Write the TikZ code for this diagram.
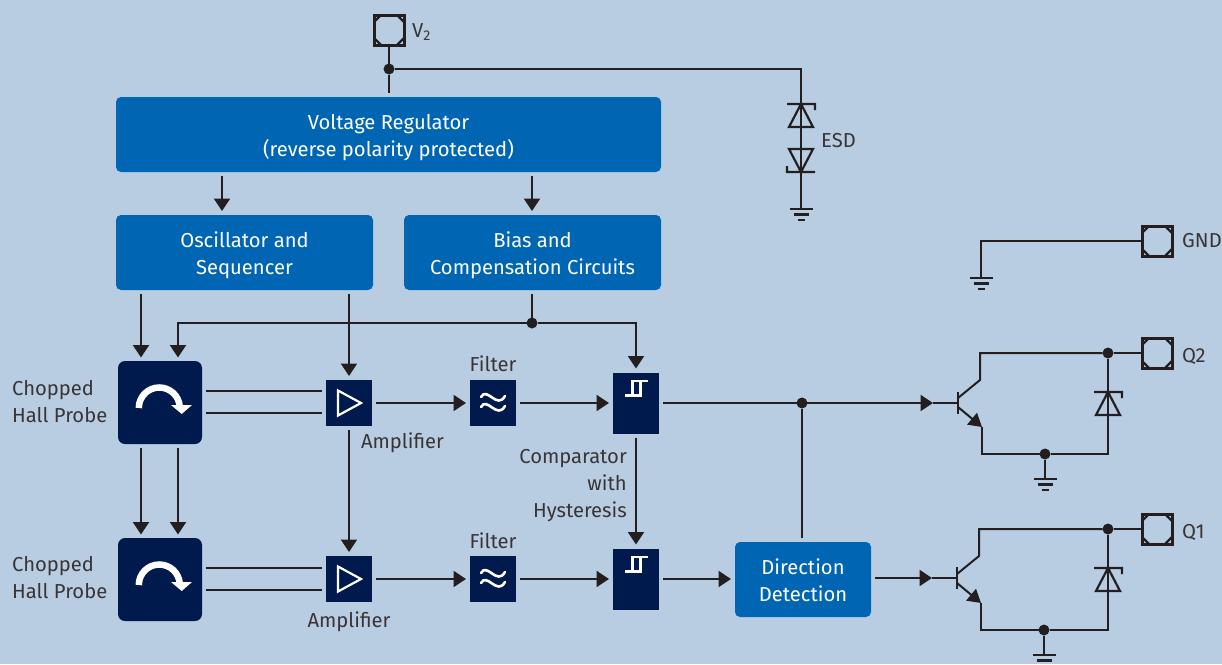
\documentclass[tikz,border=0pt]{standalone}
\usepackage{fontspec}
\setmainfont{Fira Sans}
\usepackage{tikz}
\usetikzlibrary{arrows.meta, calc}
\definecolor{panelblue}{RGB}{184,205,226}
\definecolor{ifxblue}{RGB}{0,102,179}
\definecolor{ifxnavy}{RGB}{0,26,77}
\definecolor{wirecol}{RGB}{35,31,32}
\tikzset{
  label/.style={text=wirecol!90, font=\fontsize{20.2}{27}\selectfont, align=center, inner sep=0pt},
  bluetxt/.style={text=white, font=\fontsize{20.2}{27}\selectfont, align=center, inner sep=0pt},
  bluebox/.style={fill=ifxblue, rounded corners=5pt, minimum height=75pt, outer sep=4pt, inner sep=0pt},
  hallbox/.style={fill=ifxnavy, rounded corners=7pt, minimum width=84pt, minimum height=83pt, outer sep=3.5pt, inner sep=0pt},
  ampbox/.style={fill=ifxnavy, minimum size=46pt, outer sep=4pt, inner sep=0pt},
  compbox/.style={fill=ifxnavy, minimum width=46pt, minimum height=61pt, outer sep=4pt, inner sep=0pt},
  wire/.style={draw=wirecol, line width=2pt},
  sig/.style={wire, -{Triangle[length=12.5pt,width=16pt]}},
  dot/.style={circle, fill=wirecol, minimum size=11pt, inner sep=0pt, outer sep=0pt},
  pad/.style={rectangle, draw=wirecol, line width=3pt, minimum size=30pt, inner sep=0pt, outer sep=1pt,
    path picture={\draw[wirecol, line width=2.4pt, shift={(path picture bounding box.center)}]
      (-15,-8) -- (-8,-15) (8,-15) -- (15,-8) (15,8) -- (8,15) (-8,15) -- (-15,8);}},
  gndsym/.pic={
    \draw[wirecol, line width=2.2pt] (-11.5,0) -- (11.5,0) (-7.5,5.5) -- (7.5,5.5) (-3.5,11) -- (3.5,11);},
  diodeup/.pic={
    \draw[wirecol, line width=2.2pt, line join=miter] (-14,0) -- (14,0) -- (14,6) (0,0) -- (12,23) -- (-12,23) -- cycle;},
  diodedown/.pic={
    \draw[wirecol, line width=2.2pt, line join=miter] (14,0) -- (-14,0) -- (-14,-6) (0,0) -- (12,-23) -- (-12,-23) -- cycle;},
  hallsym/.pic={
    \draw[white, line width=6.5pt] (-21.2,5.5) arc (180:355:20.5 and 20.5);
    \fill[white] (11,2.5) -- (32,2.5) -- (21.7,11.5) -- cycle;},
  ampsym/.pic={
    \draw[white, line width=2.2pt] (-11,-12.5) -- (12,0) -- (-11,12.5) -- cycle;},
  filtersym/.pic={
    \draw[white, line width=2.6pt, line cap=round] (-12,-6) .. controls (-6,-17) and (4,7) .. (12,-7)
      (-12,4) .. controls (-6,-7) and (4,17) .. (12,3);},
  compsym/.pic={
    \draw[white, line width=2.2pt] (-11,-7.5) -- (4.5,-7.5) -- (4.5,-22) (11.5,-22) -- (-3.5,-22) -- (-3.5,-7.5);},
  bjtsym/.pic={
    \draw[wirecol, line width=2.2pt] (0,-11) -- (0,11);},
}
\begin{document}
\begin{tikzpicture}[x=1pt, y=-1pt]
  \clip (0,0) rectangle (1222,664);
  \fill[panelblue] (0,0) rectangle (1222,664);
  % Supply blocks
  \node[bluebox, minimum width=545pt] (reg) at (388.5,134.5) {};
  \node[bluetxt] (regtxt) at (388.5,137.5) {Voltage Regulator\\(reverse polarity protected)};
  \node[bluebox, minimum width=257pt] (osc) at (244.5,252.5) {};
  \node[bluetxt] (osctxt) at (244.5,255.5) {Oscillator and\\Sequencer};
  \node[bluebox, minimum width=257pt] (bias) at (532.5,252.5) {};
  \node[bluetxt] (biastxt) at (532.5,255.5) {Bias and\\Compensation Circuits};
  % Upper channel
  \node[hallbox] (hall1) at (160,402.5) {};
  \node[ampbox] (amp1) at (349,403) {};
  \node[ampbox] (filt1) at (493,403) {};
  \node[compbox] (comp1) at (636,403) {};
  % Lower channel
  \node[hallbox] (hall2) at (160,579.5) {};
  \node[ampbox] (amp2) at (349,579) {};
  \node[ampbox] (filt2) at (493,579) {};
  \node[compbox] (comp2) at (636,579) {};
  \node[bluebox, minimum width=136pt] (dir) at (803,579.5) {};
  \node[bluetxt] (dirtxt) at (803,580.5) {Direction\\Detection};
  % Block symbols
  \pic at (hall1) {hallsym};
  \pic at (hall2) {hallsym};
  \pic at (amp1) {ampsym};
  \pic at (amp2) {ampsym};
  \pic at (filt1) {filtersym};
  \pic at (filt2) {filtersym};
  \pic at (comp1) {compsym};
  \pic at (comp2) {compsym};
  % Labels
  \node[label, align=left, anchor=west] (hall1txt) at (12,402) {Chopped\\Hall Probe};
  \node[label, align=left, anchor=west] (hall2txt) at (12,578) {Chopped\\Hall Probe};
  \node[label] (amp1txt) at (402.5,443) {Amplifier};
  \node[label] (amp2txt) at (349,622) {Amplifier};
  \node[label] (filt1txt) at (493,364) {Filter};
  \node[label] (filt2txt) at (493,541) {Filter};
  \node[label, align=right, anchor=east] (comptxt) at (627,486) {Comparator\\with\\Hysteresis};
  \node[label, anchor=west] (esdtxt) at (821,141) {ESD};
  \node[label, anchor=west] (vtxt) at (412,32) {V\textsubscript{2}};
  \node[label, anchor=west] (gndtxt) at (1182,241) {GND};
  \node[label, anchor=west] (q2txt) at (1182,356) {Q2};
  \node[label, anchor=west] (q1txt) at (1182,532) {Q1};
  % Pads and junctions
  \node[pad] (vpad) at (389,30) {};
  \node[pad] (gndpad) at (1157,241) {};
  \node[pad] (q2pad) at (1157,353) {};
  \node[pad] (q1pad) at (1157,529) {};
  \node[dot] (vdot) at (389,69) {};
  \node[dot] (biasdot) at (532,323) {};
  \node[dot] (outdot) at (802,403) {};
  \node[dot] (q2dot) at (1108,353) {};
  \node[dot] (q2gnd) at (1045,454) {};
  \node[dot] (q1dot) at (1108,529) {};
  \node[dot] (q1gnd) at (1044,630) {};
  % Free ends
  \coordinate (esdtop) at (801,69);
  \coordinate (esdgnd) at (801,209);
  \coordinate (gndcorner) at (981,241);
  \coordinate (gndsink) at (981,278);
  \coordinate (regl) at (222,0);
  \coordinate (oscl) at (141,0);
  \coordinate (oscr) at (349,0);
  \coordinate (hallr) at (178,0);
  \coordinate (hallu) at (0,391);
  \coordinate (halld) at (0,413);
  \coordinate (halluu) at (0,568);
  \coordinate (halldd) at (0,590);
  \coordinate (biasl) at (178,323);
  \coordinate (biasr) at (636,323);
  % Supply wiring
  \draw[wire] (vpad) -- (vdot);
  \draw[wire] (vdot) -- (reg.north -| vdot);
  \draw[wire] (vdot) -- (esdtop) -- (esdgnd);
  \pic at (801,104) {diodeup};
  \pic at (801,172) {diodedown};
  \pic at (esdgnd) {gndsym};
  \draw[wire] (gndpad) -- (gndcorner) -- (gndsink);
  \pic at (gndsink) {gndsym};
  \draw[sig] (reg.south -| regl) -- (osc.north -| regl);
  \draw[sig] (reg.south -| biasdot) -- (bias.north -| biasdot);
  % Clock and bias lines
  \draw[sig] (osc.south -| oscl) -- (hall1.north -| oscl);
  \draw[sig] (osc.south -| oscr) -- (amp1.north);
  \draw[wire] (bias.south -| biasdot) -- (biasdot);
  \draw[sig] (biasdot) -- (biasl) -- (hall1.north -| biasl);
  \draw[sig] (biasdot) -- (biasr) -- (comp1.north);
  % Signal path
  \draw[sig] (hall1.south -| oscl) -- (hall2.north -| oscl);
  \draw[sig] (hall1.south -| hallr) -- (hall2.north -| hallr);
  \draw[wire] (hall1.east |- hallu) -- (amp1.west |- hallu);
  \draw[wire] (hall1.east |- halld) -- (amp1.west |- halld);
  \draw[wire] (hall2.east |- halluu) -- (amp2.west |- halluu);
  \draw[wire] (hall2.east |- halldd) -- (amp2.west |- halldd);
  \draw[sig] (amp1.east) -- (filt1.west);
  \draw[sig] (amp2.east) -- (filt2.west);
  \draw[sig] (amp1.south) -- (amp2.north);
  \draw[sig] (filt1.east) -- (comp1.west);
  \draw[sig] (filt2.east) -- (comp2.west);
  \draw[sig] (comp1.south) -- (comp2.north);
  \draw[sig] (comp2.east) -- (dir.west |- comp2);
  \draw[wire] (dir.north -| outdot) -- (outdot);
  % Output stage Q2
  \coordinate (q2tip) at (933,403);
  \coordinate (q2base) at (958,403);
  \coordinate (q2c) at (980,380);
  \coordinate (q2e) at (982,427);
  \draw[sig] (comp1.east) -- (q2tip);
  \draw[wire] (q2tip) -- (q2base);
  \pic at (q2base) {bjtsym};
  \draw[wire, line join=miter] (958,398) -- (q2c) -- (980,353) -- (q2dot);
  \draw[wire] (q2dot) -- (q2pad);
  \draw[wire, -{Triangle[length=13pt,width=15pt]}] (958,407) -- (q2e);
  \draw[wire] (q2e) -- (982,454) -- (q2gnd);
  \draw[wire] (q2gnd) -- (1108,454) -- (q2dot);
  \pic at (1108,392) {diodeup};
  \coordinate (q2sink) at (1045,479);
  \draw[wire] (q2gnd) -- (q2sink);
  \pic at (q2sink) {gndsym};
  % Output stage Q1
  \coordinate (q1tip) at (932,578);
  \coordinate (q1base) at (957,578);
  \coordinate (q1c) at (979,556);
  \coordinate (q1e) at (981,603);
  \draw[sig] (dir.east |- q1tip) -- (q1tip);
  \draw[wire] (q1tip) -- (q1base);
  \pic at (q1base) {bjtsym};
  \draw[wire, line join=miter] (957,574) -- (q1c) -- (979,529) -- (q1dot);
  \draw[wire] (q1dot) -- (q1pad);
  \draw[wire, -{Triangle[length=13pt,width=15pt]}] (957,583) -- (q1e);
  \draw[wire] (q1e) -- (981,630) -- (q1gnd);
  \draw[wire] (q1gnd) -- (1108,630) -- (q1dot);
  \pic at (1108,568) {diodeup};
  \coordinate (q1sink) at (1044,655);
  \draw[wire] (q1gnd) -- (q1sink);
  \pic at (q1sink) {gndsym};
\end{tikzpicture}
\end{document}
